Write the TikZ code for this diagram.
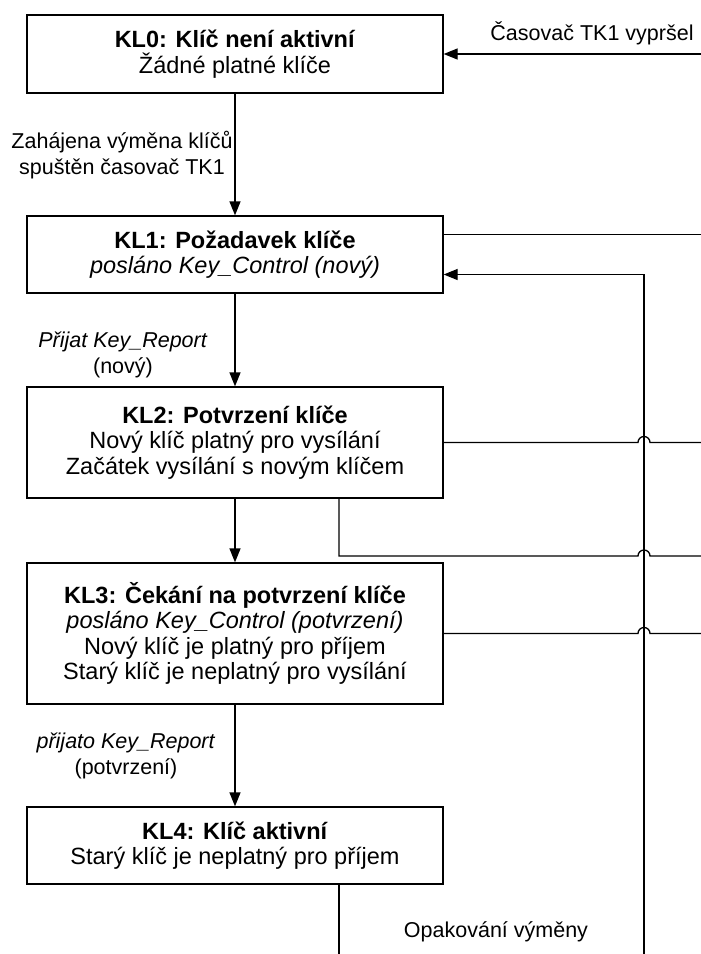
\documentclass[tikz,border=0pt]{standalone}
\usepackage{fontspec}
\setmainfont{Liberation Sans}
\usetikzlibrary{arrows.meta,calc,positioning}
\tikzset{%
	state/.style = {draw, rectangle, line width=1.3pt, minimum width=416pt, align=center, font=\fontsize{23.5}{25.5}\selectfont},
	cond/.style  = {align=center, inner sep=1pt, font=\fontsize{21.5}{25.5}\selectfont},
	link/.style  = {line width=1.3pt},
	arrow/.style = {link, -{Triangle[length=14pt,width=11pt]}},
}

\begin{document}
\begin{tikzpicture}[x=1pt,y=-1pt]
	\useasboundingbox (0,0) rectangle (701,954);
	% states
	\node[state,minimum height=78pt] (kl0) at (235,54) {\textbf{KL0: Klíč není aktivní}\\Žádné platné klíče};
	\node[state,minimum height=77pt] (kl1) at (235,254.5) {\textbf{KL1: Požadavek klíče}\\\textit{posláno Key\_Control (nový)}};
	\node[state,minimum height=111pt] (kl2) at (235,442.5) {\textbf{KL2: Potvrzení klíče}\\Nový klíč platný pro vysílání\\Začátek vysílání s novým klíčem};
	\node[state,minimum height=141pt] (kl3) at (235,633.5) {\textbf{KL3: Čekání na potvrzení klíče}\\\textit{posláno Key\_Control (potvrzení)}\\Nový klíč je platný pro příjem\\Starý klíč je neplatný pro vysílání};
	\node[state,minimum height=77pt] (kl4) at (235,845.5) {\textbf{KL4: Klíč aktivní}\\Starý klíč je neplatný pro příjem};
	
	\coordinate (rim) at (701,0);
	\coordinate (ret) at (644,954);
	\coordinate (loop) at (339,556);
	\coordinate (k1out) at ([yshift=20pt]kl1.east);
	\coordinate (k1in) at ([yshift=-20pt]kl1.east);
	
	% main flow
	\draw[arrow] (kl0) -- (kl1);
	\draw[arrow] (kl1) -- (kl2);
	\draw[arrow] (kl2) -- (kl3);
	\draw[arrow] (kl3) -- (kl4);
	\node[cond] (start) at (122,155) {Zahájena výměna klíčů\\spuštěn časovač TK1};
	\node[cond] (rep1) at (123,355) {\textit{Přijat Key\_Report}\\(nový)};
	\node[cond] (rep2) at (126,756) {\textit{přijato Key\_Report}\\(potvrzení)};
	
	% timeout and repeat
	\draw[arrow] (kl0.east -| rim) -- (kl0.east);
	\node[cond] (tmr) at (592,33) {Časovač TK1 vypršel};
	\draw[link] (k1out) -- (k1out -| rim);
	\draw[arrow] (ret) |- (k1in);
	\draw[link] (kl2.east) -- ($(kl2.east -| ret)+(-6pt,0)$) arc[start angle=180,end angle=0,radius=6pt] -- (kl2.east -| rim);
	\draw[link] (kl2.south -| loop) -- (loop) -- ($(loop -| ret)+(-6pt,0)$) arc[start angle=180,end angle=0,radius=6pt] -- (loop -| rim);
	\draw[link] (kl3.east) -- ($(kl3.east -| ret)+(-6pt,0)$) arc[start angle=180,end angle=0,radius=6pt] -- (kl3.east -| rim);
	\draw[link] (kl4.south -| loop) -- (loop |- ret);
	\node[cond] (again) at (496,932) {Opakování výměny};
\end{tikzpicture}
\end{document}
